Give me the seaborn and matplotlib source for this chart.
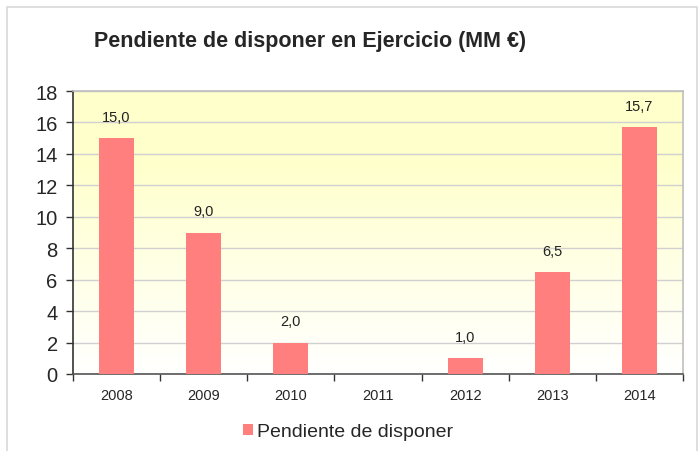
import numpy as np
import pandas as pd
import matplotlib
matplotlib.use('Agg')
import matplotlib.pyplot as plt
import seaborn as sns
from matplotlib.patches import Rectangle
from matplotlib.colors import LinearSegmentedColormap

# ── DATA ─────────────────────────────────────────────
years = ['2008', '2009', '2010', '2011', '2012', '2013', '2014']
pendiente = [15.0, 9.0, 2.0, np.nan, 1.0, 6.5, 15.7]
serie = 'Pendiente de disponer'
titulo = 'Pendiente de disponer en Ejercicio (MM €)'

df = pd.DataFrame({'Año': years, 'Valor': pendiente, 'Serie': serie})

sns.set_style('white')
plt.rcParams['font.family'] = ['Liberation Sans', 'DejaVu Sans']

fig = plt.figure(figsize=(6.99, 4.52), dpi=100)
ax = fig.add_axes([73/699, 1 - 375/452, (683 - 73)/699, (375 - 92)/452])

# outer chart frame
fig.patches.append(Rectangle((7/699, -0.05), (697 - 7)/699, 1.05 - 8/452,
                             transform=fig.transFigure, fill=False,
                             edgecolor='#D9D9D9', linewidth=1.2))

# yellow gradient background
grad = LinearSegmentedColormap.from_list(
    'bg', [(0, '#FFFFFF'), (0.75, '#FFFFCC'), (1, '#FFFFCC')])
ax.imshow(np.linspace(0, 1, 256).reshape(-1, 1), cmap=grad, aspect='auto',
          origin='lower', extent=[0, 1, 0, 1], transform=ax.transAxes, zorder=0)

sns.barplot(data=df, x='Año', y='Valor', hue='Serie', palette=['#FF7F7F'],
            width=0.4, ax=ax, zorder=3, saturation=1, linewidth=0)

for i, v in enumerate(pendiente):
    if not np.isnan(v):
        ax.text(i, v + 0.9, f'{v:.1f}'.replace('.', ','), ha='center',
                va='bottom', fontsize=10.5, color='#222222')

ax.set_ylim(0, 18)
ax.set_xlim(-0.5, len(years) - 0.5)
ax.set_yticks(range(0, 19, 2))
ax.yaxis.grid(True, color='#D0D0D0', linewidth=1, zorder=1)
ax.set_axisbelow(True)
ax.set_xlabel('')
ax.set_ylabel('')
ax.tick_params(axis='y', which='major', left=True, length=5, width=1,
               color='#333333', labelsize=14.5, pad=6)
ax.tick_params(axis='x', which='major', length=0, labelsize=10.5, pad=10)
ax.set_xticks(np.arange(-0.5, len(years), 1), minor=True)
ax.tick_params(axis='x', which='minor', bottom=True, length=5, width=1,
               color='#333333')

ax.spines['left'].set_color('#333333')
ax.spines['bottom'].set_color('#555555')
ax.spines['top'].set_color('#BFBFBF')
ax.spines['right'].set_color('#BFBFBF')
for s in ax.spines.values():
    s.set_linewidth(1.2)

fig.text(310/699, 1 - 42/452, titulo, ha='center', va='center',
         fontsize=15.5, fontweight='bold')

ax.legend(loc='center', bbox_to_anchor=(348/699, 1 - 433/452),
          bbox_transform=fig.transFigure, frameon=False, fontsize=14,
          handlelength=0.55, handleheight=0.55, handletextpad=0.2)

plt.savefig('out.png', dpi=100)
plt.close()
